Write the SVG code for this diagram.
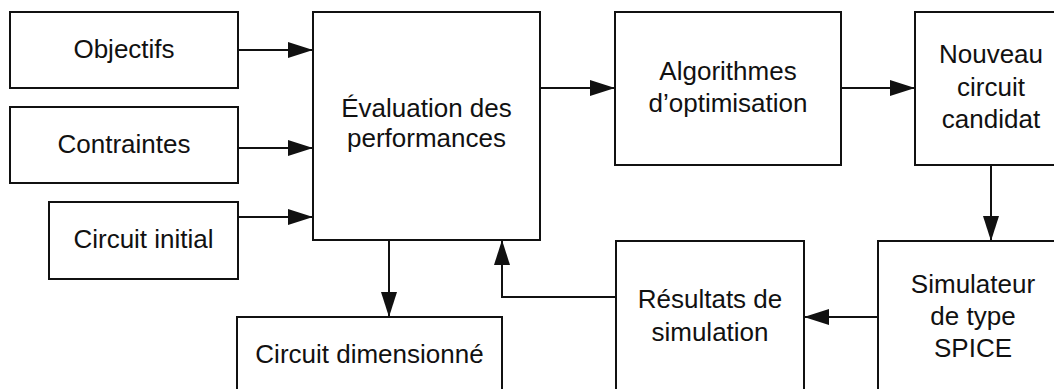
<svg xmlns="http://www.w3.org/2000/svg" width="1054" height="389" viewBox="0 0 1054 389">
<style>
.box{fill:#fff;stroke:#111;stroke-width:2}
.t{font-family:"Liberation Sans",Arial,sans-serif;font-size:26px;fill:#111;text-anchor:middle}
.c{fill:none;stroke:#111;stroke-width:2}
</style>
<defs>
<marker id="ah" viewBox="0 0 25 16" refX="25" refY="8" markerWidth="25" markerHeight="16" markerUnits="userSpaceOnUse" orient="auto">
<path d="M0,0 L25,8 L0,16 Z" fill="#111"/>
</marker>
</defs>
<rect width="1054" height="389" fill="#fff"/>
<g id="connectors">
<path class="c" d="M238,50 H313" marker-end="url(#ah)"/>
<path class="c" d="M238,148 H313" marker-end="url(#ah)"/>
<path class="c" d="M238,217 H313" marker-end="url(#ah)"/>
<path class="c" d="M540,88 H615" marker-end="url(#ah)"/>
<path class="c" d="M841,88 H915" marker-end="url(#ah)"/>
<path class="c" d="M991,165 V241" marker-end="url(#ah)"/>
<path class="c" d="M878,317 H804" marker-end="url(#ah)"/>
<path class="c" d="M616,297 H502 V240" marker-end="url(#ah)"/>
<path class="c" d="M389,240 V317" marker-end="url(#ah)"/>
</g>
<g id="objectifs">
<rect class="box" x="10" y="12" width="228" height="76"/>
<text class="t" x="124" y="58">Objectifs</text>
</g>
<g id="contraintes">
<rect class="box" x="10" y="107" width="228" height="76"/>
<text class="t" x="124" y="153">Contraintes</text>
</g>
<g id="circuit-initial">
<rect class="box" x="49" y="202" width="189" height="77"/>
<text class="t" x="143.5" y="248">Circuit initial</text>
</g>
<g id="evaluation">
<rect class="box" x="313" y="12" width="227" height="228"/>
<text class="t" x="426.5" y="117">Évaluation des</text>
<text class="t" x="426.5" y="147">performances</text>
</g>
<g id="algorithmes">
<rect class="box" x="615" y="12" width="226" height="153"/>
<text class="t" x="728" y="80">Algorithmes</text>
<text class="t" x="728" y="112">d’optimisation</text>
</g>
<g id="nouveau">
<rect class="box" x="915" y="12" width="152" height="153"/>
<text class="t" x="991" y="63">Nouveau</text>
<text class="t" x="991" y="96">circuit</text>
<text class="t" x="991" y="128">candidat</text>
</g>
<g id="simulateur">
<rect class="box" x="878" y="241" width="190" height="160"/>
<text class="t" x="973" y="293">Simulateur</text>
<text class="t" x="973" y="325">de type</text>
<text class="t" x="973" y="357">SPICE</text>
</g>
<g id="resultats">
<rect class="box" x="616" y="241" width="188" height="160"/>
<text class="t" x="710" y="308">Résultats de</text>
<text class="t" x="710" y="341">simulation</text>
</g>
<g id="circuit-dimensionne">
<rect class="box" x="237" y="317" width="265" height="84"/>
<text class="t" x="369.5" y="363">Circuit dimensionné</text>
</g>
</svg>
